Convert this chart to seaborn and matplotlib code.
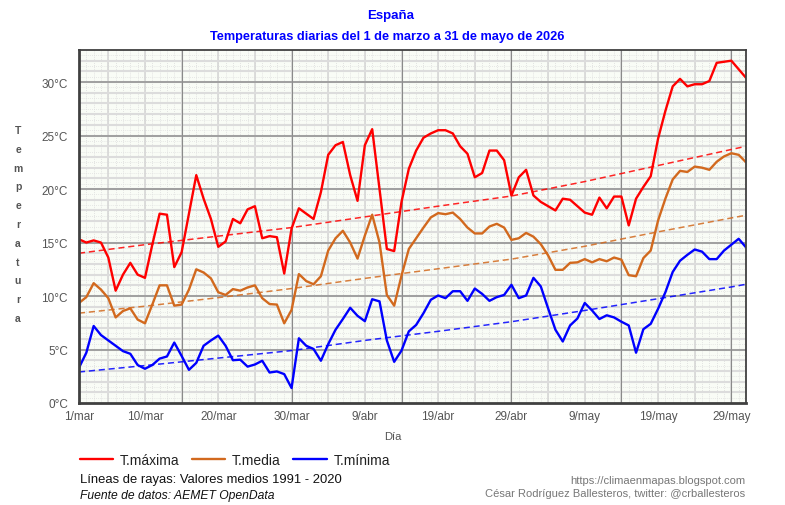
import numpy as np
import pandas as pd
import matplotlib
matplotlib.use('Agg')
import matplotlib.pyplot as plt
import seaborn as sns

# datos diarios 1 mar - 31 may 2026
t_max = [15.3, 15.0, 15.2, 15.0, 13.6, 10.5, 12.0, 13.1, 12.0, 11.7,
         14.8, 17.7, 17.6, 12.7, 14.1, 17.7, 21.3, 19.1, 17.2, 14.6,
         15.1, 17.2, 16.8, 18.1, 18.4, 15.4, 15.6, 15.5, 12.1, 16.3,
         18.2, 17.7, 17.2, 19.7, 23.2, 24.1, 24.4, 21.3, 18.9, 24.1,
         25.6, 20.0, 14.4, 14.2, 18.8, 21.9, 23.6, 24.8, 25.2, 25.5,
         25.5, 25.2, 24.0, 23.3, 21.1, 21.5, 23.6, 23.6, 22.7, 19.4,
         21.1, 21.8, 19.4, 18.8, 18.4, 18.0, 19.1, 19.0, 18.4, 17.8,
         17.6, 19.2, 18.2, 19.3, 19.3, 16.6, 19.1, 20.2, 21.2, 24.7,
         27.3, 29.6, 30.3, 29.6, 29.8, 29.8, 30.1, 31.8, 31.9, 32.0,
         31.2, 30.4]
t_med = [9.35, 9.9, 11.2, 10.6, 9.8, 8.0, 8.6, 8.85, 7.8, 7.45,
         9.2, 11.0, 11.0, 9.1, 9.2, 10.6, 12.5, 12.2, 11.65, 10.35,
         10.1, 10.65, 10.5, 10.8, 11.0, 9.8, 9.25, 9.2, 7.45, 8.7,
         12.05, 11.4, 11.1, 11.85, 14.25, 15.4, 16.1, 15.0, 13.5, 15.65,
         17.6, 15.0, 10.1, 9.1, 11.9, 14.4, 15.4, 16.4, 17.35, 17.75,
         17.65, 17.8, 17.2, 16.4, 15.85, 15.85, 16.5, 16.75, 16.4, 15.25,
         15.4, 15.9, 15.55, 14.85, 13.8, 12.45, 12.45, 13.1, 13.15, 13.45,
         13.15, 13.45, 13.25, 13.6, 13.4, 11.95, 11.85, 13.55, 14.25, 17.05,
         19.1, 20.9, 21.7, 21.6, 22.1, 22.0, 21.8, 22.55, 23.05, 23.35,
         23.2, 22.5]
t_min = [3.3, 4.7, 7.2, 6.35, 5.85, 5.35, 4.85, 4.6, 3.55, 3.2,
         3.55, 4.15, 4.35, 5.65, 4.4, 3.1, 3.75, 5.35, 5.85, 6.3,
         5.35, 4.0, 4.05, 3.4, 3.6, 3.95, 2.85, 2.95, 2.7, 1.4,
         6.05, 5.35, 5.05, 3.95, 5.5, 6.85, 7.85, 8.9, 8.15, 7.65,
         9.7, 9.5, 5.85, 3.85, 4.9, 6.7, 7.3, 8.4, 9.65, 10.05,
         9.8, 10.45, 10.45, 9.55, 10.7, 10.2, 9.55, 9.9, 10.1, 11.05,
         9.8, 10.05, 11.7, 10.9, 8.85, 6.85, 5.75, 7.25, 7.9, 9.35,
         8.65, 7.85, 8.2, 8.0, 7.6, 7.25, 4.7, 6.9, 7.4, 8.8,
         10.35, 12.25, 13.3, 13.85, 14.35, 14.15, 13.45, 13.45, 14.25, 14.8,
         15.35, 14.55]

# valores medios 1991-2020 (lineas de rayas)
dias_norm = [0, 9, 19, 29, 39, 49, 59, 69, 79, 89, 91]
norm_max = [14.0, 14.8, 15.6, 16.4, 17.4, 18.4, 19.35, 20.7, 22.2, 23.7, 24.0]
norm_med = [8.4, 9.05, 9.85, 10.7, 11.65, 12.55, 13.45, 14.65, 16.0, 17.3, 17.55]
norm_min = [2.9, 3.5, 4.2, 4.9, 5.85, 6.7, 7.6, 8.65, 9.75, 10.85, 11.1]

tick_dias = [0, 9, 19, 29, 39, 49, 59, 69, 79, 89]
tick_labels = ['1/mar', '10/mar', '20/mar', '30/mar', '9/abr', '19/abr',
               '29/abr', '9/may', '19/may', '29/may']

dias = np.arange(len(t_max))
df = pd.DataFrame({'dia': dias, 'T.máxima': t_max, 'T.media': t_med, 'T.mínima': t_min})
df_norm = pd.DataFrame({'dia': dias_norm, 'max': norm_max, 'med': norm_med, 'min': norm_min})

sns.set_style('white')
plt.rcParams['font.family'] = ['Liberation Sans', 'DejaVu Sans']

c_max, c_med, c_min = '#ff0000', '#d2691e', '#0000ff'

fig = plt.figure(figsize=(7.85, 5.06), dpi=100)
ax = fig.add_axes([79/785, 1 - 404/506, (746 - 79)/785, (404 - 51)/506])
ax.set_facecolor('#f9fcf6')

# rejilla
for d in range(92):
    ax.axvline(d, color='#dadada', lw=0.6, ls=(0, (1, 1.5)), zorder=0.5)
for d in range(4, 92, 5):
    ax.axvline(d, color='#d4d4d4', lw=1.1, zorder=0.6)
for d in range(14, 92, 15):
    ax.axvline(d, color='#8a8a8a', lw=0.8, zorder=0.7)
for t in np.arange(0.5, 33, 1.0):
    ax.axhline(t, color='#e0e0e0', lw=0.6, ls=(0, (1, 1.5)), zorder=0.5)
for t in range(1, 33):
    ax.axhline(t, color='#dcdcdc', lw=1.5, zorder=0.6)
for t in range(5, 33, 5):
    ax.axhline(t, color='#909090', lw=1.1, zorder=0.7)

# normales
sns.lineplot(data=df_norm, x='dia', y='max', color=c_max, lw=1.1, ax=ax)
sns.lineplot(data=df_norm, x='dia', y='med', color=c_med, lw=1.1, ax=ax)
sns.lineplot(data=df_norm, x='dia', y='min', color=c_min, lw=1.1, ax=ax)
for ln in ax.lines[-3:]:
    ln.set_dashes((4, 2.5))
    ln.set_alpha(0.85)

# series diarias
sns.lineplot(data=df, x='dia', y='T.máxima', color=c_max, lw=1.7, ax=ax, label='T.máxima')
sns.lineplot(data=df, x='dia', y='T.media', color=c_med, lw=1.7, ax=ax, label='T.media')
sns.lineplot(data=df, x='dia', y='T.mínima', color=c_min, lw=1.7, ax=ax, label='T.mínima')

ax.set_xlim(0, 91)
ax.set_ylim(0, 33)
ax.set_xticks(tick_dias)
ax.set_xticklabels(tick_labels)
ax.set_yticks(range(0, 31, 5))
ax.set_yticklabels([f'{t}°C' for t in range(0, 31, 5)])
ax.tick_params(axis='both', colors='#555555', labelsize=8.5, length=4, width=1, direction='out')
ax.tick_params(axis='y', pad=4)
ax.tick_params(axis='x', pad=1)
ax.set_xlabel('')
ax.set_ylabel('')
for s in ax.spines.values():
    s.set_color('#404040')
    s.set_linewidth(1.3)
ax.spines['left'].set_linewidth(2)
ax.spines['bottom'].set_linewidth(2)

handles, labels = ax.get_legend_handles_labels()
ax.get_legend().remove()
fig.legend(handles, labels, loc='center left', bbox_to_anchor=(67/785, 1 - 461/506),
           ncol=3, frameon=False, fontsize=10, handlelength=2.4, handletextpad=0.5,
           columnspacing=0.9, labelcolor='#222222')

fig.text(0.497, 1 - 16/506, 'España', ha='center', va='center', color='#0000ff',
         fontsize=9.5, fontweight='bold')
fig.text(0.493, 1 - 37/506, 'Temperaturas diarias del 1 de marzo a 31 de mayo de 2026',
         ha='center', va='center', color='#0000ff', fontsize=9.2, fontweight='bold')
fig.text(18/785, 1 - 225/506, '\n'.join('Temperatura'), ha='center', va='center',
         color='#555555', fontsize=7.5, fontweight='bold', linespacing=2.1)
fig.text(393/785, 1 - 437/506, 'Día', ha='center', va='center', color='#555555', fontsize=8)
fig.text(80/785, 1 - 480/506, 'Líneas de rayas: Valores medios 1991 - 2020', ha='left',
         va='center', color='#111111', fontsize=9.4)
fig.text(80/785, 1 - 496/506, 'Fuente de datos: AEMET OpenData', ha='left', va='center',
         color='#111111', fontsize=8.7, style='italic')
fig.text(745/785, 1 - 481/506, 'https://climaenmapas.blogspot.com', ha='right', va='center',
         color='#777777', fontsize=8)
fig.text(745/785, 1 - 494/506, 'César Rodríguez Ballesteros, twitter: @crballesteros',
         ha='right', va='center', color='#777777', fontsize=8)

fig.savefig('out.png', dpi=100, facecolor='white')
